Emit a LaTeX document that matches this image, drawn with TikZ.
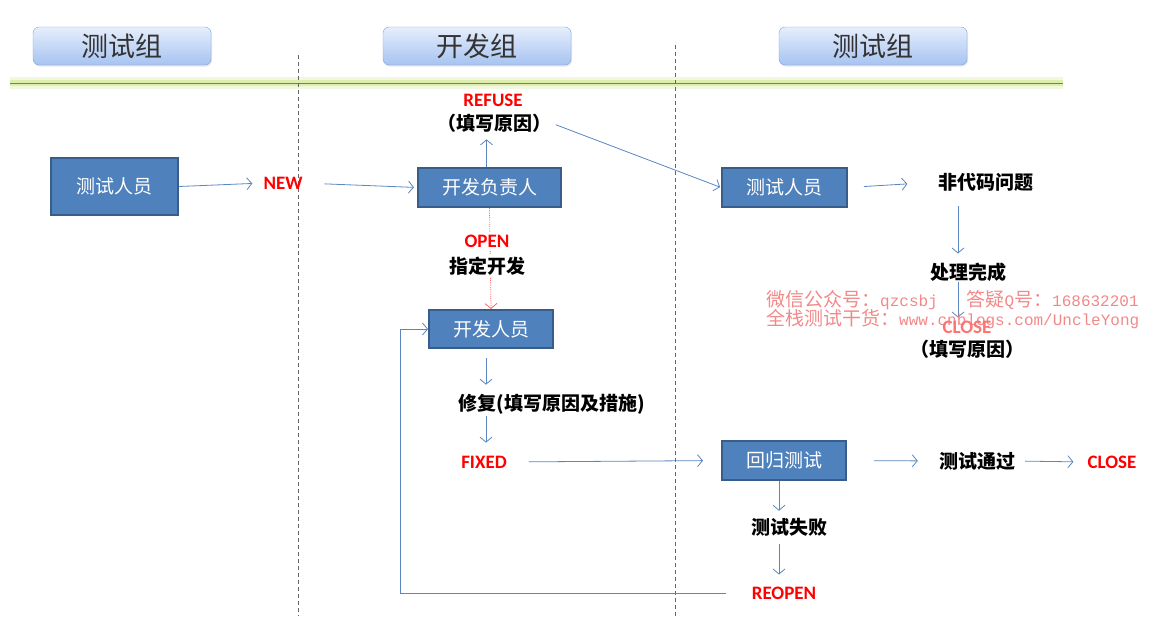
\documentclass[tikz,border=0pt]{standalone}
\usepackage{fontspec}
\setmainfont{Carlito}
\setmonofont{Liberation Mono}
\newfontfamily\cjk{Noto Sans CJK SC}
\usetikzlibrary{arrows.meta,shadows}

\definecolor{boxfill}{HTML}{4F81BD}
\definecolor{boxline}{HTML}{385D8A}
\definecolor{flow}{HTML}{5B86C0}
\definecolor{headtop}{HTML}{E6EEFB}
\definecolor{headbot}{HTML}{A6C3F1}
\definecolor{headline}{HTML}{7FA3DA}
\definecolor{glow}{HTML}{D8EBA2}
\definecolor{wmred}{HTML}{F07474}

\tikzset{
  header/.style={rounded corners=6pt, top color=headtop, bottom color=headbot, draw=headline,
    drop shadow={opacity=0.2, shadow xshift=1pt, shadow yshift=-1.5pt},
    minimum width=178pt, minimum height=38pt, text=black!80,
    font=\cjk\fontsize{27}{27}\selectfont},
  role/.style={draw=boxline, line width=2pt, fill=boxfill, text=white,
    font=\cjk\fontsize{19}{19}\selectfont},
  note/.style={inner sep=0pt, font=\cjk\bfseries\fontsize{19}{19}\selectfont},
  tag/.style={inner sep=0pt, text=red, font=\bfseries\fontsize{19}{19}\selectfont},
  watermark/.style={inner sep=0pt, anchor=north west, align=left, text=wmred, text opacity=0.85}
}

\begin{document}
\begin{tikzpicture}[x=1pt, y=-1pt, >={Straight Barb[length=5pt,width=12pt]}]
  \useasboundingbox (0,0) rectangle (1154,616);

  % lane separators and title rule
  \draw[glow, line width=12pt, opacity=0.35] (10,83) -- (1063,83);
  \draw[glow, line width=6pt, opacity=0.8] (10,83) -- (1063,83);
  \draw[boxfill, line width=0.8pt] (10,83) -- (1063,83);
  \draw[black!60, dashed, dash pattern=on 4pt off 3pt] (298,55) -- (298,616);
  \draw[black!60, dashed, dash pattern=on 4pt off 3pt] (675,45) -- (675,616);

  \begin{scope}[every node/.style={header}]
    \node (hdtest) at (122,46) {测试组};
    \node[minimum width=188pt] (hddev) at (477,46) {开发组};
    \node[minimum width=188pt] (hdcheck) at (873,46) {测试组};
  \end{scope}

  \begin{scope}[every node/.style={role}]
    \node[minimum width=127pt, minimum height=57pt] (tester) at (114.5,186.5) {测试人员};
    \node[minimum width=143pt, minimum height=39pt] (lead) at (489.5,187.5) {开发负责人};
    \node[minimum width=125pt, minimum height=39pt] (retester) at (784.5,187.5) {测试人员};
    \node[minimum width=124pt, minimum height=38pt] (dev) at (491,329) {开发人员};
    \node[minimum width=124pt, minimum height=39pt] (regress) at (784,460.5) {回归测试};
  \end{scope}

  \begin{scope}[every node/.style={note}]
    \node (reason) at (494,123) {（填写原因）};
    \node (noncode) at (986,182) {非代码问题};
    \node (done) at (968,272) {处理完成};
    \node (reasonb) at (967,349) {（填写原因）};
    \node (fix) at (552,404) {修复(填写原因及措施)};
    \node (pass) at (977,461) {测试通过};
    \node (fail) at (789,527) {测试失败};
  \end{scope}

  \begin{scope}[every node/.style={tag}]
    \node (new) at (283,183) {NEW};
    \node (refuse) at (493,100) {REFUSE};
    \node[text=red!55] (closea) at (967,327) {CLOSE};
    \node (fixed) at (484,462) {FIXED};
    \node (closeb) at (1112,462) {CLOSE};
    \node (reopen) at (784,593) {REOPEN};
  \end{scope}

  \coordinate (loop) at (400,593);

  \begin{scope}[every edge/.style={draw=flow, line width=0.8pt}]
    \path [->] (tester.east) edge [shorten >=11pt] (new.west);
    \path [->] (new.east) edge [shorten <=22pt, shorten >=3pt] (lead.west);
    \path [->] ([xshift=-3pt]lead.north) edge [shorten >=7pt] ([xshift=-3pt]lead.north |- reason.south);
    \path [->] (reason.east) edge [shorten <=5pt, shorten >=1pt] (retester.west);
    \path [->] (retester.east) edge [shorten <=16pt, shorten >=31pt] (noncode.west);
    \path [->] ([xshift=-28pt]noncode.south) edge [shorten <=15pt, shorten >=9pt] ([xshift=-28pt]noncode.south |- done.north);
    \path [->] ([xshift=-10pt]done.south) edge [shorten >=3pt] ([xshift=-10pt]done.south |- closea.north);
    \path [->] ([xshift=-5pt]dev.south) edge [shorten <=9pt, shorten >=9pt] ([xshift=-5pt]dev.south |- fix.north);
    \path [->] ([xshift=-5pt]dev.south |- fix.south) edge [shorten <=2pt, shorten >=13pt] ([xshift=-5pt]dev.south |- fixed.north);
    \path [->] (fixed.east) edge [shorten <=22pt, shorten >=18pt] (regress.west);
    \path [->] (regress.east) edge [shorten <=27pt, shorten >=21pt] (pass.west);
    \path [->] (pass.east) edge [shorten <=10pt, shorten >=14pt] (closeb.west);
    \path [->] ([xshift=-5pt]regress.south) edge [shorten >=7pt] ([xshift=-5pt]regress.south |- fail.north);
    \path [->] ([xshift=-5pt]regress.south |- fail.south) edge [shorten <=8pt, shorten >=12pt] ([xshift=-5pt]regress.south |- reopen.north);
  \end{scope}

  \draw [->, flow, line width=0.8pt, shorten <=26pt] (reopen.west) -- (loop) |- (dev.west);
  \draw [->, red!60, densely dotted, line width=0.8pt] (lead.south) -- (dev.north);
  \node [tag, fill=white, inner ysep=3pt] (open) at (487,241) {OPEN};
  \node [note, fill=white, inner ysep=3pt] (assign) at (487,266) {指定开发};

  \node [watermark] (wm) at (766,290)
    {{\cjk\fontsize{19}{20}\selectfont 微信公众号：}{\ttfamily\fontsize{16}{20}\selectfont qzcsbj\ \ \ }{\cjk\fontsize{19}{20}\selectfont 答疑}{\ttfamily\fontsize{16}{20}\selectfont Q}{\cjk\fontsize{19}{20}\selectfont 号：}{\ttfamily\fontsize{16}{20}\selectfont 168632201}\\[-1pt]
     {\cjk\fontsize{19}{20}\selectfont 全栈测试干货：}{\ttfamily\fontsize{16}{20}\selectfont www.cnblogs.com/UncleYong}};
\end{tikzpicture}
\end{document}
